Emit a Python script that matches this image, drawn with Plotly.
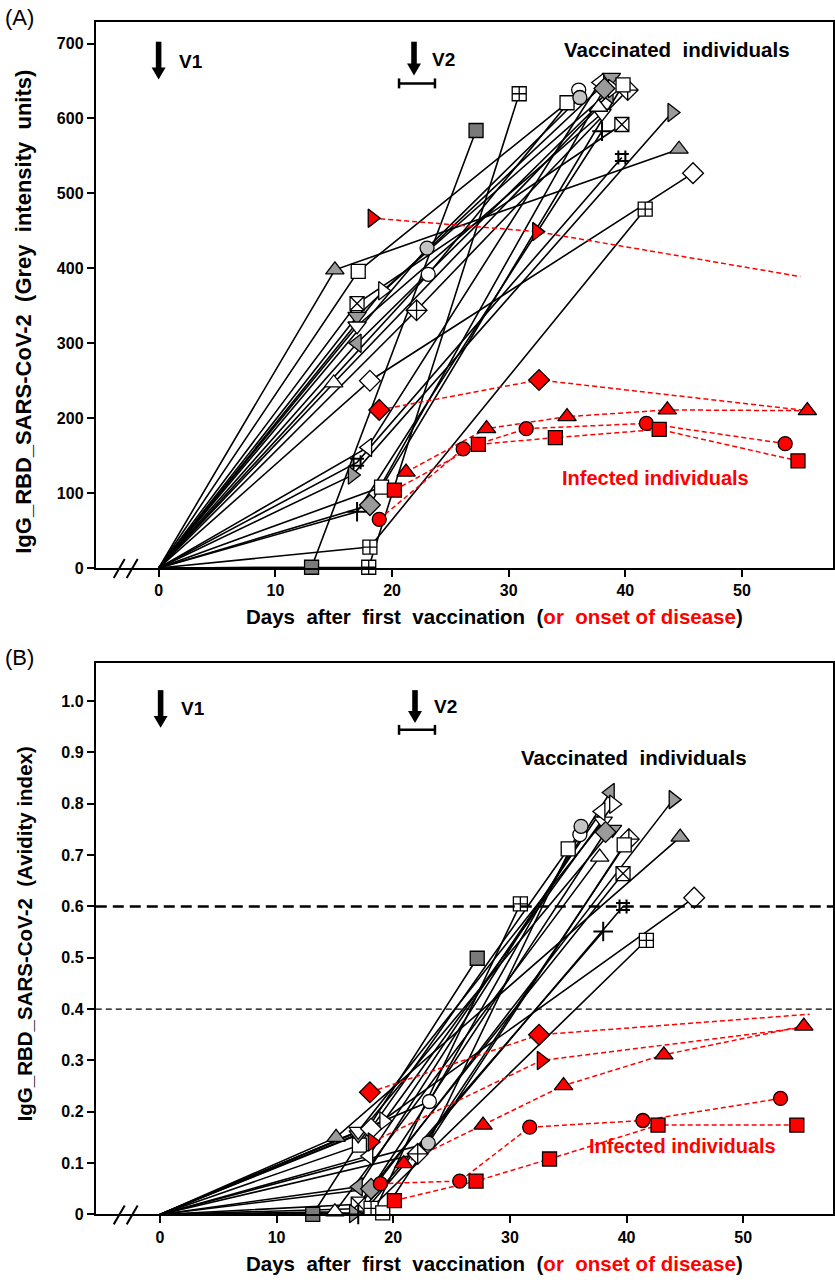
import plotly.graph_objects as go

W, H = 835, 1287

# ---------------- data ----------------
# vaccinated individuals (each: day0 -> day1 -> day2)
vac_symbol = ['triangle-up', 'square', 'square-x', 'triangle-down', 'triangle-down', 'triangle-left',
              'triangle-right', 'circle', 'circle', 'diamond-cross', 'triangle-up', 'diamond',
              'triangle-left', 'hash', 'triangle-right', 'diamond', 'cross-thin', 'square',
              'square-cross', 'square-cross', 'square']
vac_fill = ['#9a9a9a', 'white', 'white', '#9a9a9a', 'white', '#9a9a9a',
            'white', 'white', '#c4c4c4', 'white', 'white', 'white',
            'white', 'black', '#9a9a9a', '#9a9a9a', 'black', '#7a7a7a',
            'white', 'white', 'white']
vac_day1 = [15.1, 17.1, 17.0, 17.0, 17.0, 17.0, 19.2, 23.1, 23.0, 22.1, 15.0, 18.1,
            17.9, 17.0, 16.6, 18.1, 17.0, 13.1, 18.0, 18.1, 19.1]
vac_day2 = [44.6, 35.0, 39.7, 38.8, 38.0, 38.6, 38.9, 36.0, 36.1, 40.2, 37.7, 45.8,
            37.8, 39.7, 44.0, 38.2, 38.0, 27.2, 30.9, 41.7, 39.8]
igg_1 = [398, 396, 353, 336, 323, 300, 370, 392, 427, 344, 247, 250,
         161, 141, 124, 84, 75, 1, 1, 28, 108]
igg_2 = [559, 621, 592, 655, 607, 632, 640, 638, 628, 638, 615, 527,
         648, 548, 608, 640, 583, 584, 633, 479, 645]
avid_1 = [0.150, 0.135, 0.020, 0.155, 0.162, 0.054, 0.182, 0.220, 0.139, 0.118, 0.005, 0.167,
          0.114, -0.008, 0.002, 0.050, 0.000, 0.000, -0.012, 0.012, 0.003]
avid_2 = [0.735, 0.712, 0.664, 0.750, 0.766, 0.822, 0.799, 0.740, 0.756, 0.731, 0.696, 0.617,
          0.785, 0.600, 0.808, 0.745, 0.551, 0.499, 0.605, 0.534, 0.720]

# infected individuals (days after onset of disease)
inf_symbol = ['triangle-right', 'diamond', 'triangle-up', 'circle', 'square']
inf_days_A = [[18.3, 32.4, 55.0], [18.9, 32.6, 55.6], [21.2, 28.1, 35.0, 43.6, 55.6],
              [18.9, 26.1, 31.5, 41.8, 53.7], [20.2, 27.4, 34.0, 42.9, 54.8]]
inf_igg = [[467, 449, 389], [211, 251, 210], [128, 186, 202, 211, 210],
           [65, 159, 186, 193, 166], [104, 165, 174, 185, 143]]
inf_days_B = [[18.2, 32.7, 55.2], [18.0, 32.5, 55.7], [20.9, 27.7, 34.6, 43.2, 55.2],
              [18.9, 25.7, 31.7, 41.4, 53.2], [20.1, 27.1, 33.4, 42.7, 54.6]]
inf_avid = [[0.141, 0.300, 0.364], [0.238, 0.350, 0.390], [0.099, 0.174, 0.251, 0.311, 0.367],
            [0.060, 0.065, 0.170, 0.183, 0.226], [0.027, 0.065, 0.108, 0.174, 0.174]]
inf_marker_shown = [[1, 1, 0], [1, 1, 0], [1, 1, 1, 1, 1], [1, 1, 1, 1, 1], [1, 1, 1, 1, 1]]

x_ticks = [0, 10, 20, 30, 40, 50]
yA_ticks = [0, 100, 200, 300, 400, 500, 600, 700]
yB_ticks = [0, 0.1, 0.2, 0.3, 0.4, 0.5, 0.6, 0.7, 0.8, 0.9, 1.0]
yB_text = ['0', '0.1', '0.2', '0.3', '0.4', '0.5', '0.6', '0.7', '0.8', '0.9', '1.0']

# ---------------- helpers ----------------
def px(x):
    return x / W

def py(y):
    return 1 - y / H

FONT = 'Liberation Sans'

def msize(sym):
    if sym.startswith('triangle'):
        return 16
    if sym.startswith('diamond'):
        return 16
    if sym in ('hash', 'cross-thin'):
        return 14
    return 14

fig = go.Figure()

panels = [('x', 'y', igg_1, igg_2, inf_days_A, inf_igg),
          ('x2', 'y2', avid_1, avid_2, inf_days_B, inf_avid)]

for xa, ya, v1, v2, idays, ivals in panels:
    # lines first
    for i in range(len(vac_symbol)):
        fig.add_trace(go.Scatter(x=[0, vac_day1[i], vac_day2[i]], y=[0, v1[i], v2[i]],
                                 mode='lines', line=dict(color='black', width=1.6),
                                 xaxis=xa, yaxis=ya, showlegend=False, hoverinfo='skip',
                                 cliponaxis=False))
    for k in range(len(inf_symbol)):
        fig.add_trace(go.Scatter(x=idays[k], y=ivals[k], mode='lines',
                                 line=dict(color='#ff0000', width=1.5, dash='5px,3px'),
                                 xaxis=xa, yaxis=ya, showlegend=False, hoverinfo='skip',
                                 cliponaxis=False))
    # markers
    for i in range(len(vac_symbol)):
        sym = vac_symbol[i]
        lineonly = sym in ('hash', 'cross-thin')
        fig.add_trace(go.Scatter(x=[vac_day1[i], vac_day2[i]], y=[v1[i], v2[i]],
                                 mode='markers',
                                 marker=dict(symbol=sym, size=msize(sym), color=vac_fill[i], opacity=1,
                                             line=dict(color='black', width=2 if lineonly else 1.3)),
                                 xaxis=xa, yaxis=ya, showlegend=False, cliponaxis=False))
    for k in range(len(inf_symbol)):
        sym = inf_symbol[k]
        sizes = [msize(sym) if s else 0 for s in inf_marker_shown[k]]
        fig.add_trace(go.Scatter(x=idays[k], y=ivals[k], mode='markers',
                                 marker=dict(symbol=sym, size=sizes, color='#ff0000', opacity=1,
                                             line=dict(color='black', width=1.3)),
                                 xaxis=xa, yaxis=ya, showlegend=False, cliponaxis=False))

axis_common = dict(showline=True, linewidth=2, linecolor='black', mirror=True,
                   ticks='outside', ticklen=7, tickwidth=2, tickcolor='black',
                   showgrid=False, zeroline=False,
                   tickfont=dict(family=FONT, size=16, color='black', weight='bold'))

xdom = [px(96), 1.0]
fig.update_layout(
    width=W, height=H, margin=dict(l=0, r=0, t=0, b=0),
    plot_bgcolor='white', paper_bgcolor='white', showlegend=False,
    xaxis=dict(domain=xdom, range=[-5.4, 57.8], tickvals=x_ticks, anchor='y', **axis_common),
    yaxis=dict(domain=[py(572), py(22)], range=[0, 729], tickvals=yA_ticks, anchor='x', **axis_common),
    xaxis2=dict(domain=xdom, range=[-5.5, 57.7], tickvals=x_ticks, anchor='y2', **axis_common),
    yaxis2=dict(domain=[py(1223), py(668)], range=[0, 1.0735], tickvals=yB_ticks,
                ticktext=yB_text, anchor='x2', **axis_common),
)

shapes = []
# threshold lines in panel B
shapes.append(dict(type='line', xref='x2 domain', x0=0, x1=1, yref='y2', y0=0.6, y1=0.6,
                   line=dict(color='black', width=2.5, dash='11px,6px')))
shapes.append(dict(type='line', xref='x2 domain', x0=0, x1=1, yref='y2', y0=0.4, y1=0.4,
                   line=dict(color='black', width=1.2, dash='6px,4px')))

def down_arrow(xc, ytop, ytip):
    shapes.append(dict(type='rect', xref='paper', yref='paper',
                       x0=px(xc - 2.8), x1=px(xc + 2.8), y0=py(ytip - 10), y1=py(ytop),
                       fillcolor='black', line=dict(width=0)))
    shapes.append(dict(type='path', xref='paper', yref='paper',
                       path=f'M {px(xc-7)} {py(ytip-12)} L {px(xc+7)} {py(ytip-12)} L {px(xc)} {py(ytip)} Z',
                       fillcolor='black', line=dict(width=0)))

def range_bar(x0, x1, y):
    shapes.append(dict(type='line', xref='paper', yref='paper', x0=px(x0), x1=px(x1),
                       y0=py(y), y1=py(y), line=dict(color='black', width=2.5)))
    for xx in (x0, x1):
        shapes.append(dict(type='line', xref='paper', yref='paper', x0=px(xx), x1=px(xx),
                           y0=py(y - 5), y1=py(y + 5), line=dict(color='black', width=2.5)))

def axis_break(ybase):
    for xa0 in (114, 127):
        shapes.append(dict(type='line', xref='paper', yref='paper', x0=px(xa0), x1=px(xa0 + 11),
                           y0=py(ybase + 10), y1=py(ybase - 9), line=dict(color='black', width=2)))

down_arrow(159, 42, 80)
down_arrow(415, 42, 76)
range_bar(400, 436, 84)
axis_break(572)

down_arrow(161, 695, 733)
down_arrow(416, 695, 728)
range_bar(400, 436, 735)
axis_break(1223)

fig.update_layout(shapes=shapes)

ann = []
def text(x, y, s, size=16, color='black', bold=True, angle=0, xanchor='center', family=FONT):
    ann.append(dict(xref='paper', yref='paper', x=px(x), y=py(y), text=s, showarrow=False,
                    xanchor=xanchor, yanchor='middle', textangle=angle,
                    font=dict(family=family, size=size, color=color, weight='bold' if bold else 'normal')))

NB = '\u00a0'
G2 = NB + ' '
text(3, 18, '(A)', size=22, bold=False, xanchor='left')
text(3, 662, '(B)', size=22, bold=False, xanchor='left')
text(177, 62, 'V1', size=19, xanchor='left')
text(431, 60, 'V2', size=19, xanchor='left')
text(179, 713, 'V1', size=19, xanchor='left')
text(433, 711, 'V2', size=19, xanchor='left')
text(679, 50, f'Vaccinated{G2}individuals', size=20.5)
text(636, 763, f'Vaccinated{G2}individuals', size=20.5)
text(657, 481, 'Infected individuals', size=20, color='#ff0000')
text(684, 1154, 'Infected individuals', size=20, color='#ff0000')

xt = (f'Days{G2}after{G2}first{G2}vaccination{G2}(<span style="color:#ff0000">or{G2}onset of disease</span>)')
text(496, 621, xt, size=20.5)
text(496, 1272, xt, size=20.5)
text(24, 314, f'IgG_RBD_SARS-CoV-2{G2}(Grey{G2}intensity{G2}units)', size=22, angle=-90)
text(24, 940, f'IgG_RBD_SARS-CoV-2{G2}(Avidity index)', size=20.5, angle=-90)

fig.update_layout(annotations=ann)

fig.write_html('out.html')
